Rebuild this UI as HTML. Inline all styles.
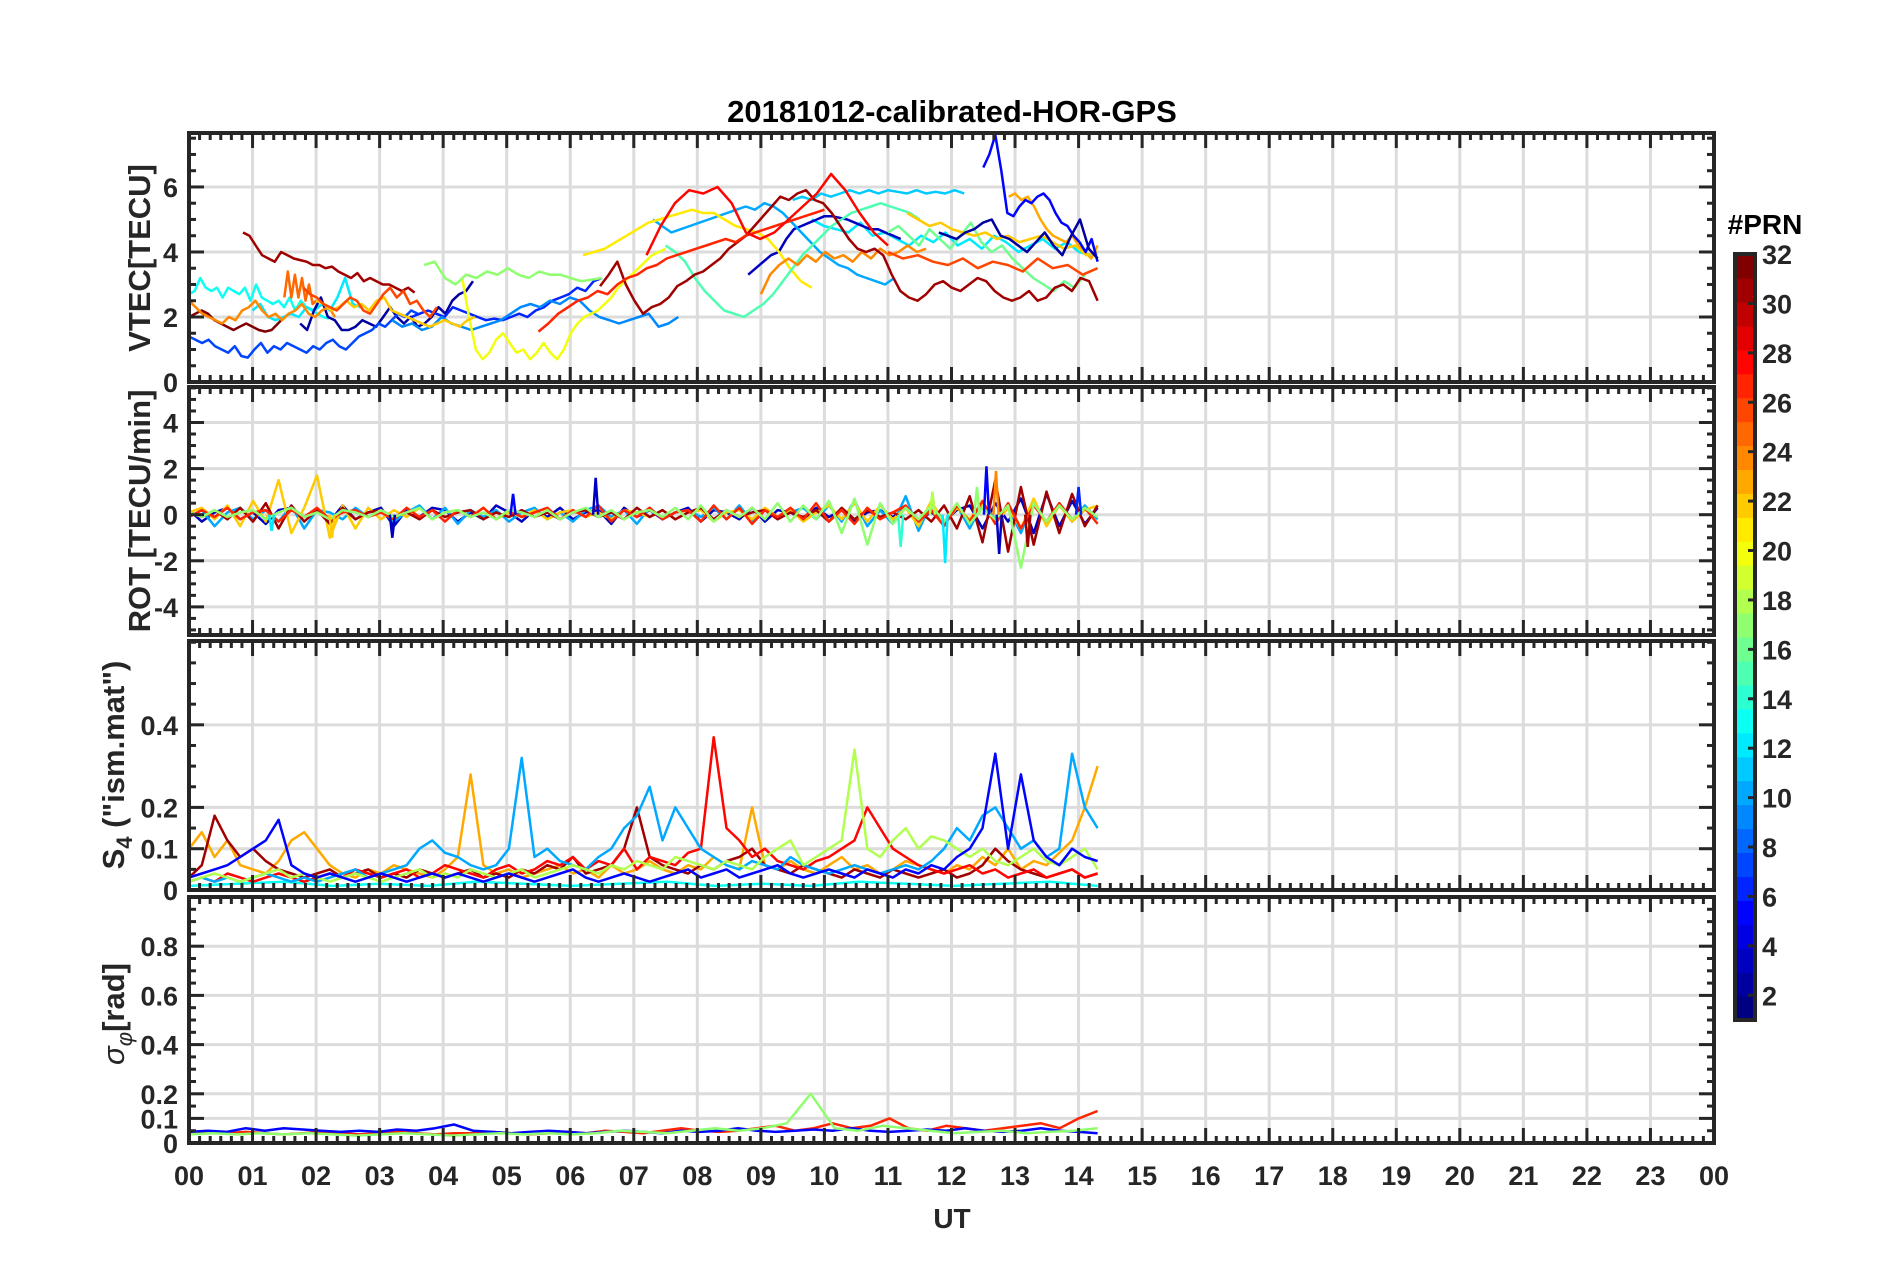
<!DOCTYPE html>
<html><head><meta charset="utf-8"><title>20181012-calibrated-HOR-GPS</title>
<style>html,body{margin:0;padding:0;background:#fff;}svg{display:block;font-family:"Liberation Sans",sans-serif;}</style>
</head><body>
<svg id="chart" width="1902" height="1272" viewBox="0 0 1902 1272" xmlns="http://www.w3.org/2000/svg">
<rect width="1902" height="1272" fill="#fff"/>
<text x="952" y="122" text-anchor="middle" font-size="31" font-weight="bold" fill="#000">20181012-calibrated-HOR-GPS</text>
<g id="panels"></g>
<g id="cbar"></g>
<text x="952" y="1228" text-anchor="middle" font-size="28" font-weight="bold" fill="#262626">UT</text>
</svg>
<script>
// ---------- DATA ----------
const hourTicks = ["00","01","02","03","04","05","06","07","08","09","10","11","12","13","14","15","16","17","18","19","20","21","22","23","00"];
const prnTicks = [2,4,6,8,10,12,14,16,18,20,22,24,26,28,30,32];

const vtecPrn = [31,32,13,12,12,2,3,7,6,9,10,11,20,21,17,15,16,24,24,25,23,22,22,26,5,2,31,27,28,26];
const vtecStart = [0.85,0,0,1.0,9.8,1.75,8.8,0,3.5,3.2,7.3,9.5,4.3,6.2,3.7,7.5,11,0,9.0,1.5,12.9,11.3,2.0,1.8,12.5,11.8,6.47,5.5,7.2,11.0];
const vtecEnd = [3.55,1.5,2.2,2.7,14.2,4.47,11.2,3.6,6.5,7.7,11.1,12.2,7.5,9.8,6.5,11.5,14.1,2.3,11.6,2.0,14.3,14.3,4.5,3.9,14.3,14.3,14.3,10.0,11.0,14.3];
const vtecVals = [
[4.6,4.5,4.2,3.9,3.8,3.7,4.0,3.9,3.8,3.75,3.7,3.6,3.6,3.5,3.55,3.4,3.3,3.2,3.35,3.1,3.2,3.1,3.0,3.0,2.9,2.8,2.9,2.75],
[2.0,2.1,2.2,2.1,1.9,1.8,1.7,1.6,1.7,1.8,1.7,1.6,1.55,1.6,1.8,2.0],
[2.7,2.8,3.2,2.9,2.8,2.9,2.6,2.9,2.8,2.7,2.9,2.5,3.0,2.6,2.5,2.4,2.5,2.3,2.6,2.2,2.5,2.3,2.2,2.1,2.0,1.95],
[2.2,2.4,2.0,1.9,2.0,2.1,2.0,2.3,2.2,2.4,2.2,2.6,3.2,2.4,2.3],
[5.0,4.8,4.7,4.6,4.9,4.5,4.6,4.4,4.2,4.5,4.3,4.6,4.2,4.4,4.1,4.5,4.3,4.0,4.2,4.4,4.1,4.3,4.0,3.9],
[1.8,1.6,2.2,2.6,2.0,1.9,1.6,1.6,1.7,1.9,1.8,1.7,2.0,2.3,2.0,1.8,2.0,1.7,1.8,2.0,2.3,2.1,2.5,2.7,2.8,3.1],
[3.3,3.5,3.7,3.9,4.0,4.4,4.7,4.8,4.9,5.0,5.1,5.1,5.05,5.0,4.9,4.8,4.7,4.7,4.6,4.5,4.4],
[1.4,1.3,1.2,1.3,1.1,1.0,0.9,1.1,0.8,0.75,1.0,1.2,0.9,1.1,1.0,1.2,1.1,1.0,0.9,1.1,1.0,1.2,1.3,1.1,1.0,1.2,1.4,1.5,1.6,1.8,1.7,1.9,2.1,2.0,2.2,2.1],
[2.0,2.1,2.2,2.1,2.0,2.3,2.2,2.1,2.0,1.9,1.95,1.9,2.0,2.1,2.0,2.2,2.3,2.5,2.6,2.7,2.9,2.8,3.1,3.2],
[1.9,1.7,1.8,1.6,1.7,2.0,1.8,1.7,1.6,1.7,1.8,1.9,2.1,2.3,2.4,2.3,2.5,2.4,2.6,2.5,2.2,2.0,1.9,1.8,1.9,2.0,2.1,1.7,1.8,2.0],
[5.0,4.8,4.6,4.7,4.8,4.9,5.0,5.1,5.2,5.3,5.4,5.3,5.5,5.4,5.2,4.9,4.6,4.3,4.0,3.8,3.6,3.5,3.3,3.2,3.1,3.0,3.2],
[5.6,5.7,5.6,5.8,5.7,5.8,5.9,5.8,5.9,5.8,5.9,5.85,5.8,5.9,5.8,5.85,5.8,5.9,5.8],
[3.2,2.0,1.0,0.7,0.9,1.3,1.5,1.2,0.9,1.0,0.7,0.9,1.2,0.9,0.7,1.0,1.5,1.8,2.0,2.1,2.2,2.4,2.6,2.9,3.1,3.3,3.5,3.7,3.9,4.0,4.1],
[3.9,4.0,4.1,4.3,4.5,4.7,4.9,5.0,5.1,5.2,5.3,5.2,5.2,5.0,4.8,4.7,4.6,4.4,4.0,3.5,3.1,2.9],
[3.6,3.7,3.2,3.0,3.3,3.2,3.4,3.3,3.5,3.3,3.2,3.4,3.3,3.3,3.2,3.1,3.15,3.2],
[4.2,4.0,3.7,3.2,2.8,2.5,2.2,2.1,2.0,2.2,2.4,2.7,3.1,3.5,3.9,4.2,4.5,4.8,5.0,5.2,5.3,5.4,5.5,5.4,5.3,5.2,5.0],
[4.6,4.8,4.5,4.2,4.7,4.4,4.1,4.5,4.9,4.3,4.0,4.2,3.8,3.5,3.2,3.0,2.8,3.1,2.9,3.3],
[2.5,2.3,2.1,2.0,1.9,1.8,2.0,1.9,2.2,2.3,2.5,2.2,2.0,2.1,1.9,2.1,2.2,2.4,2.1,2.0,2.2,2.3,2.0],
[2.7,3.3,3.6,3.8,3.6,3.9,3.7,4.0,3.8,3.9,3.7,4.0,3.8,4.1,3.9,4.0,4.2,4.0,4.1],
[2.6,3.4,2.6,3.3,2.6,3.2,2.5,3.0,2.4,2.5],
[5.7,5.8,5.6,5.7,5.4,5.0,4.7,4.5,4.4,4.3,4.5,4.2,4.0,3.8,4.2],
[5.2,5.0,4.8,4.9,4.7,4.6,4.5,4.6,4.4,4.5,4.3,4.4,4.5,4.3,4.1,4.2,3.9,4.0],
[2.5,2.4,2.2,2.3,2.5,2.3,2.4,2.2,2.5,2.6,2.2,2.1,2.0,1.9,1.8,1.7,1.8,1.9,1.8,1.7,1.9,2.0],
[2.9,2.7,2.6,2.4,2.3,2.2,2.4,2.6,2.5,2.2,2.1,2.4,2.7,2.9,2.6,2.8,2.4,2.5,2.2,2.0,2.3],
[6.6,7.0,7.6,6.5,5.2,5.1,5.4,5.6,5.5,5.7,5.8,5.6,5.2,4.9,4.8,4.5,4.3,4.0,4.4,3.7],
[4.6,4.5,4.4,4.6,4.7,4.9,5.0,4.5,4.4,4.2,4.0,4.3,4.6,4.2,3.9,4.5,5.0,4.1,3.8],
[2.95,3.3,3.7,3.0,2.5,2.1,2.3,2.4,2.6,2.95,3.1,3.3,3.4,3.6,3.8,4.1,4.3,4.5,4.8,5.1,5.4,5.7,5.6,5.8,5.9,5.6,5.5,5.2,4.8,4.4,4.1,4.0,4.1,3.9,3.3,2.8,2.6,2.5,2.7,3.0,3.1,2.9,2.8,3.0,3.2,3.1,2.8,2.6,2.5,2.6,2.8,2.5,2.6,2.9,3.0,2.8,3.2,3.1,2.5],
[1.55,1.8,2.1,2.3,2.5,2.6,2.8,2.7,3.0,3.2,3.3,3.5,3.6,3.8,3.9,4.0,4.1,4.2,4.3,4.4,4.3,4.5,4.6,4.7,4.8,4.9,5.0,5.1,5.2,5.3],
[3.9,4.8,5.5,5.9,5.8,6.0,5.5,4.6,4.4,4.6,5.0,5.4,5.8,6.4,5.9,5.2,4.6,4.2],
[4.0,3.8,3.9,3.7,3.6,3.8,3.5,3.7,3.6,3.4,3.8,3.5,3.6,3.3,3.5]
];

const rotPrn = [3,10,22,31,27,17];
const rotStart = [0,0,0,0,0,0];
const rotEnd = [14.3,14.3,14.3,14.3,14.3,14.3];
const rotVals = [
[.2,-.3,.1,.3,-.2,.1,-.4,.2,.3,-.1,.2,-.3,.4,-.2,.1,.3,-.5,.2,-.1,.3,.2,-.3,.1,-.2,.4,.1,-.3,.2,-.1,.3,-.2,.1,.2,-.4,.3,-.1,.2,-.2,.1,.3,-.3,.2,.1,-.2,.3,-.3,.2,.1,-.2,.3,-.1,.2,-.3,.1,.2,-.1,.3,-.2,.1,-.3,.2,.4,-.6,.5,-.3,.7,-.8,.9,-.5,.6,-.4,.3],
[-.1,.2,-.5,.1,.3,-.2,.2,-.3,.4,-.6,.2,.1,-.2,.3,-.1,.2,-.3,.1,.4,-.2,.3,-.4,.2,-.1,.2,-.3,.1,.3,-.2,.1,-.3,.2,.4,-.1,.2,-.4,.3,-.2,.1,.2,-.1,.3,-.2,.4,-.3,.2,-.1,.1,.3,-.2,.4,-.3,.6,-.5,.2,-.4,.8,-.7,.5,-.3,.4,-.6,.5,-.2,.3,-.8,.6,-.4,.5,-.3,.4,-.2],
[.1,.3,-.2,.4,-.5,.6,-.3,1.5,-.8,.3,1.7,-1.0,.4,-.6,.3,-.2,.2,-.1,.3,-.2,.1,.2,-.1,.3,-.2,.1,-.1,.2,-.2,.1,.2,-.1,.1,-.2,.2,.1,-.1,.2,-.2,.1,.2,-.3,.1,.2,-.2,.3,-.1,.2,-.3,.1,.4,-.2,.5,-.3,.4,-.2,.3,-.5,.6,-.4,.3,-.2,.5,-.4,.3,-.6,.7,-.5,.4,-.3,.2,.4],
[.1,-.1,.2,-.2,.3,-.3,.5,-.6,.4,-.3,.2,-.4,.3,-.2,.1,.2,-.1,.1,-.2,.2,-.1,.1,.2,-.2,.1,-.1,.2,-.1,.1,-.2,.1,.2,-.1,.1,-.2,.3,-.1,.2,-.2,.1,.3,-.2,.2,-.1,.1,.2,-.2,.1,-.1,.2,-.3,.3,-.2,.2,-.1,.1,-.2,.2,-.3,.4,-.6,.8,-1.2,1.5,-1.6,1.2,-1.3,1.0,-.8,.9,-.5,.4],
[-.1,.2,-.1,.3,-.2,.1,.2,-.3,.2,-.1,.3,-.2,.1,.2,-.1,.1,-.2,.3,-.1,.2,-.3,.2,-.1,.3,-.2,.2,-.1,.1,.3,-.2,.2,-.1,.4,-.3,.2,-.1,.3,-.2,.1,.2,-.3,.4,-.2,.3,-.4,.2,-.1,.3,-.2,.5,-.3,.2,-.4,.3,-.2,.1,.4,-.3,.2,-.5,.4,-.3,.6,-.4,.5,-.6,.4,-.3,.5,-.2,.3,-.4],
[.1,-.1,.2,-.1,.1,.2,-.2,.1,.3,-.1,.1,-.2,.2,.1,-.1,.2,-.1,.1,.3,-.2,.1,.2,-.1,.1,-.2,.2,.1,-.1,.2,-.2,.1,.3,-.1,.2,-.2,.1,.2,-.1,.3,-.2,.4,-.3,.2,-.1,.3,-.2,.5,-.3,.4,-.2,.6,-.8,.7,-1.3,.5,-.4,.3,-.2,.4,-.3,.5,-.4,.3,-.2,.4,-2.3,.5,-.3,.4,-.2,.3,-.1]
];
const rotSpikeT = [6.4,12.55,12.7,12.75,11.9,11.2,2.25,3.2,11.7,13.2,14.0,12.4,1.3,5.1];
const rotSpikeV = [1.6,2.1,1.9,-1.7,-2.1,-1.4,-1.0,-1.0,1.0,-1.4,1.2,1.2,-.7,.9];
const rotSpikePrn = [3,5,24,3,12,14,22,3,18,31,6,17,12,5];

const s4Prn = [13,23,31,28,10,18,5];
const s4Start = [0,0,0,0,0,0,0];
const s4End = [14.3,14.3,14.3,14.3,14.3,14.3,14.3];
const s4Vals = [
[.01,.015,.02,.01,.015,.01,.02,.015,.01,.015,.02,.01,.015,.01,.02,.015,.01,.015,.02,.01],
[.1,.14,.08,.12,.06,.05,.04,.07,.12,.14,.1,.06,.04,.03,.05,.04,.06,.05,.04,.03,.05,.08,.28,.06,.04,.05,.03,.04,.05,.06,.04,.05,.03,.06,.04,.05,.07,.05,.04,.06,.05,.08,.06,.05,.2,.06,.05,.07,.05,.04,.06,.08,.05,.06,.04,.05,.07,.06,.05,.04,.06,.05,.08,.06,.1,.05,.07,.06,.09,.12,.2,.3],
[.03,.06,.18,.12,.08,.1,.07,.05,.04,.03,.04,.05,.03,.04,.05,.03,.04,.03,.05,.04,.03,.04,.05,.03,.04,.03,.05,.04,.06,.05,.08,.04,.05,.06,.1,.2,.08,.06,.05,.04,.06,.05,.07,.08,.1,.06,.05,.04,.06,.05,.04,.03,.05,.04,.03,.05,.04,.03,.04,.05,.03,.04,.06,.1,.07,.05,.04,.03,.04,.05,.03,.04],
[.02,.03,.02,.04,.03,.02,.03,.04,.03,.02,.03,.04,.03,.05,.04,.03,.04,.05,.03,.04,.06,.05,.04,.03,.05,.06,.04,.05,.07,.06,.08,.05,.07,.06,.1,.05,.08,.07,.06,.09,.1,.37,.15,.12,.08,.1,.07,.06,.05,.07,.08,.1,.12,.2,.15,.1,.08,.06,.05,.04,.05,.06,.04,.05,.03,.04,.05,.03,.04,.05,.03,.04],
[.02,.03,.02,.03,.02,.03,.04,.03,.02,.03,.02,.03,.04,.05,.03,.04,.05,.06,.1,.12,.09,.08,.06,.05,.06,.1,.32,.08,.1,.07,.06,.05,.08,.1,.15,.18,.25,.12,.2,.15,.1,.08,.06,.05,.07,.06,.05,.08,.06,.05,.04,.05,.06,.05,.04,.05,.06,.05,.07,.1,.15,.12,.18,.2,.15,.1,.12,.08,.1,.33,.2,.15],
[.02,.03,.04,.03,.02,.03,.04,.05,.03,.04,.03,.02,.03,.04,.03,.02,.03,.04,.05,.03,.04,.03,.05,.04,.03,.04,.05,.03,.04,.05,.06,.05,.04,.06,.05,.07,.06,.05,.08,.07,.06,.05,.07,.06,.05,.08,.1,.12,.06,.08,.1,.12,.34,.1,.08,.12,.15,.1,.13,.12,.1,.08,.1,.07,.06,.08,.1,.07,.06,.08,.1,.05],
[.03,.04,.05,.06,.08,.1,.12,.17,.06,.04,.03,.04,.03,.02,.03,.04,.03,.02,.03,.04,.03,.04,.03,.02,.03,.04,.03,.02,.03,.04,.05,.03,.02,.03,.04,.03,.02,.03,.04,.05,.03,.04,.05,.03,.04,.05,.06,.04,.03,.04,.05,.04,.03,.05,.04,.03,.05,.04,.06,.05,.08,.1,.15,.33,.1,.28,.12,.08,.06,.1,.08,.07]
];

const sigPrn = [27,5,17];
const sigStart = [0,0,0];
const sigEnd = [14.3,14.3,14.3];
const sigVals = [
[.04,.05,.04,.045,.04,.035,.04,.045,.04,.035,.04,.045,.04,.035,.04,.04,.045,.04,.035,.04,.045,.04,.05,.045,.04,.05,.06,.05,.045,.05,.06,.07,.05,.06,.08,.06,.07,.1,.06,.05,.07,.06,.05,.06,.07,.08,.06,.1,.13],
[.045,.05,.045,.06,.05,.06,.055,.05,.045,.05,.045,.055,.05,.06,.075,.05,.045,.04,.045,.05,.045,.04,.045,.05,.045,.04,.05,.045,.05,.06,.05,.045,.05,.055,.05,.06,.05,.045,.05,.055,.05,.06,.05,.045,.05,.06,.05,.045,.04],
[.035,.04,.035,.04,.035,.04,.035,.03,.035,.04,.035,.03,.035,.04,.035,.04,.035,.04,.05,.045,.04,.05,.06,.05,.06,.08,.2,.06,.05,.07,.06,.05,.04,.045,.05,.04,.045,.05,.06]
];

// ---------- RENDER ----------
const NS = "http://www.w3.org/2000/svg";
const gP = document.getElementById('panels');
const X0 = 189, X1 = 1714;
const xS = h => X0 + h / 24 * (X1 - X0);
function mk(tag, attrs, parent) { const e = document.createElementNS(NS, tag); for (const k in attrs) e.setAttribute(k, attrs[k]); (parent || gP).appendChild(e); return e; }
function jet(p) {
  const c = (p - 1) / 31, cl = v => Math.max(0, Math.min(1, v));
  const r = cl(1.5 - Math.abs(4 * c - 3)), g = cl(1.5 - Math.abs(4 * c - 2)), b = cl(1.5 - Math.abs(4 * c - 1));
  return `rgb(${Math.round(r*255)},${Math.round(g*255)},${Math.round(b*255)})`;
}
const panels = [
  {name:'vtec', top:133, bot:382, y0:0, y1:7.66, major:[0,2,4,6], labels:['0','2','4','6'], minor:0.5, grid:[2,4,6]},
  {name:'rot', top:387, bot:635, y0:-5.22, y1:5.54, major:[-4,-2,0,2,4], labels:['-4','-2','0','2','4'], minor:0.5, grid:[-4,-2,0,2,4]},
  {name:'s4', top:641, bot:890, y0:0, y1:0.603, major:[0,0.1,0.2,0.4], labels:['0','0.1','0.2','0.4'], minor:0.05, grid:[0.1,0.2,0.4]},
  {name:'sigma', top:897, bot:1143, y0:0, y1:1.0, major:[0,0.1,0.2,0.4,0.6,0.8], labels:['0','0.1','0.2','0.4','0.6','0.8'], minor:0.05, grid:[0.1,0.2,0.4,0.6,0.8]}
];
panels.forEach((p, pi) => {
  p.y = v => p.bot - (v - p.y0) / (p.y1 - p.y0) * (p.bot - p.top);
  const g = mk('g', {});  
  const clip = mk('clipPath', {id: 'clip' + pi}, g); mk('rect', {x: X0, y: p.top, width: X1 - X0, height: p.bot - p.top}, clip);
  for (let h = 1; h < 24; h++) mk('line', {x1: xS(h), x2: xS(h), y1: p.top, y2: p.bot, stroke: '#dcdcdc', 'stroke-width': 3}, g);
  p.grid.forEach(v => mk('line', {x1: X0, x2: X1, y1: p.y(v), y2: p.y(v), stroke: '#dcdcdc', 'stroke-width': 3}, g));
  p.series = mk('g', {'clip-path': `url(#clip${pi})`}, g);
});
function drawSeries(pi, prns, starts, ends, vals, nm) {
  const p = panels[pi];
  vals.forEach((arr, i) => {
    const n = arr.length;
    const pts = arr.map((v, j) => {
      const t = starts[i] + (ends[i] - starts[i]) * (n > 1 ? j / (n - 1) : 0);
      return xS(t).toFixed(1) + ',' + p.y(v).toFixed(1);
    }).join(' ');
    const pl = mk('polyline', {points: pts, fill: 'none', stroke: jet(prns[i]), 'stroke-width': 2.5, 'stroke-linejoin': 'round'}, p.series);
    
    
  });
}
drawSeries(0, vtecPrn, vtecStart, vtecEnd, vtecVals, 'vtec');
drawSeries(1, rotPrn, rotStart, rotEnd, rotVals, 'rot');
rotSpikeT.forEach((t, i) => {
  const p = panels[1];
  const sp = mk('polyline', {points: `${xS(t-0.04)},${p.y(0)} ${xS(t)},${p.y(rotSpikeV[i])} ${xS(t+0.04)},${p.y(0)}`, fill: 'none', stroke: jet(rotSpikePrn[i]), 'stroke-width': 2.5}, p.series);
  
  
});
drawSeries(2, s4Prn, s4Start, s4End, s4Vals, 's4');
drawSeries(3, sigPrn, sigStart, sigEnd, sigVals, 'sigma');

panels.forEach((p) => {
  const g = mk('g', {});
  
  
  const T = '#262626';
  for (let m = 0; m <= 144; m++) {
    const x = xS(m / 6), L = m % 6 === 0 ? 15 : 7;
    mk('line', {x1: x, x2: x, y1: p.top, y2: p.top + L, stroke: T, 'stroke-width': 3}, g);
    mk('line', {x1: x, x2: x, y1: p.bot, y2: p.bot - L, stroke: T, 'stroke-width': 3}, g);
  }
  const steps = Math.round((p.y1 - p.y0) / p.minor) + 2;
  for (let k = -1; k < steps; k++) {
    const v = Math.ceil(p.y0 / p.minor) * p.minor + k * p.minor;
    if (v < p.y0 - 1e-9 || v > p.y1 + 1e-9) continue;
    const y = p.y(v), isMaj = p.major.some(m => Math.abs(m - v) < 1e-6), L = isMaj ? 15 : 7;
    mk('line', {x1: X0, x2: X0 + L, y1: y, y2: y, stroke: T, 'stroke-width': 3}, g);
    mk('line', {x1: X1, x2: X1 - L, y1: y, y2: y, stroke: T, 'stroke-width': 3}, g);
  }
  mk('rect', {x: X0, y: p.top, width: X1 - X0, height: p.bot - p.top, fill: 'none', stroke: T, 'stroke-width': 4}, g);
  p.major.forEach((v, i) => {
    const t = mk('text', {x: 178, y: p.y(v) + 10, 'text-anchor': 'end', 'font-size': 27, 'font-weight': 'bold', fill: T}, g);
    t.textContent = p.labels[i];
    
    
  });
});
hourTicks.forEach((lab, i) => {
  const t = mk('text', {x: xS(i), y: 1185, 'text-anchor': 'middle', 'font-size': 27, 'font-weight': 'bold', fill: '#262626'});
  t.textContent = lab;
  
  
});
function ylab(x, y, html, nm) {
  const t = mk('text', {transform: `translate(${x},${y}) rotate(-90)`, 'text-anchor': 'middle', 'font-size': 31, 'font-weight': 'bold', fill: '#262626'});
  t.innerHTML = html;
  
  
}
ylab(150, 258, 'VTEC[TECU]', 'vtec-y-axis-title');
ylab(150, 511, 'ROT [TECU/min]', 'rot-y-axis-title');
ylab(124, 765, 'S<tspan font-size="22" dy="8">4</tspan><tspan dy="-8"> ("ism.mat")</tspan>', 's4-y-axis-title');
ylab(124, 1014, '<tspan font-style="italic" font-weight="normal">σ</tspan><tspan font-size="22" dy="8" font-style="italic" font-weight="normal">φ</tspan><tspan dy="-8">[rad]</tspan>', 'sigma-y-axis-title');

// colorbar
const cb = document.getElementById('cbar');


const CBX = 1735, CBW = 20, CBT = 254, CBB = 1020;
for (let i = 1; i <= 32; i++) {
  const h = (CBB - CBT) / 32;
  mk('rect', {x: CBX, y: CBB - i * h, width: CBW, height: h + 0.6, fill: jet(i)}, cb);
}
const cy = v => CBT + (32 - v) / 31 * (CBB - CBT);
prnTicks.forEach(v => {
  mk('line', {x1: CBX + CBW - 7, x2: CBX + CBW, y1: cy(v), y2: cy(v), stroke: '#262626', 'stroke-width': 3}, cb);
  const t = mk('text', {x: 1762, y: cy(v) + 10, 'font-size': 27, 'font-weight': 'bold', fill: '#262626'}, cb);
  t.textContent = v;
  
  
});
mk('rect', {x: CBX, y: CBT, width: CBW, height: CBB - CBT, fill: 'none', stroke: '#262626', 'stroke-width': 4}, cb);
const ct = mk('text', {x: 1765, y: 234, 'text-anchor': 'middle', 'font-size': 28, 'font-weight': 'bold', fill: '#000'}, cb);
ct.textContent = '#PRN';


</script>
</body></html>
